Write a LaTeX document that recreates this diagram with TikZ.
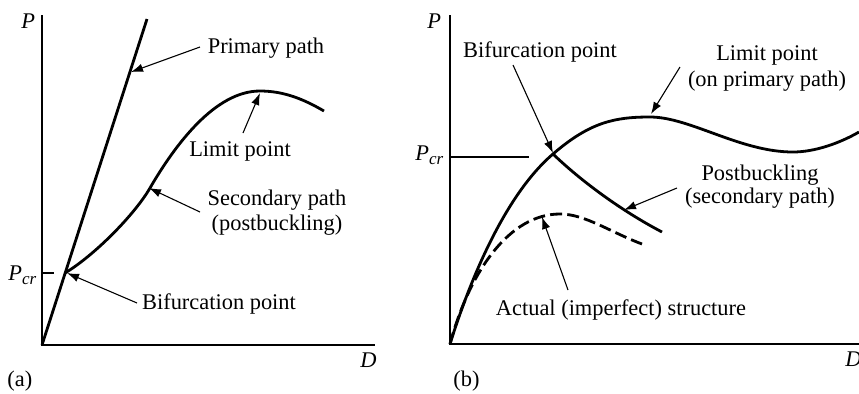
\documentclass[tikz,border=0pt]{standalone}
\usepackage{fontspec}
\setmainfont{Liberation Serif}
\usetikzlibrary{arrows.meta}
\newcommand{\myP}{\textit{P}}
\newcommand{\myPcr}{\textit{P}\raisebox{-0.45ex}{\fontsize{8.5}{9}\selectfont\textit{cr}}}
\begin{document}
\begin{tikzpicture}[x=0.5pt,y=-0.5pt,
  axis/.style={line width=0.75pt},
  curve/.style={line width=1.4pt},
  dashcurve/.style={line width=1.4pt, dash pattern=on 6pt off 2.6pt},
  pointer/.style={line width=0.55pt,-{Latex[length=6pt,width=4.2pt]}},
  lbl/.style={inner sep=0pt, font=\fontsize{11.2}{13}\selectfont},
  every node/.style={inner sep=0pt}]
\useasboundingbox (0,0) rectangle (859,393);
% ---------------- panel (a)
\coordinate (aO) at (42,345);
\coordinate (aTop) at (42,15);
\coordinate (aRight) at (375,345);
\draw[axis] (aTop) -- (aO) -- (aRight);
\coordinate (aPrimEnd) at (147,19);
\draw[curve] (aO) -- (aPrimEnd);
\coordinate (aB) at (65,273);
\coordinate (aS) at (150,188);
\coordinate (aL) at (260,91);
\coordinate (aEnd) at (324,111);
\draw[curve] (aB) .. controls (95,255) and (135,214) .. (aS)
  .. controls (175,145) and (215,91) .. (aL)
  .. controls (285,91) and (305,100) .. (aEnd);
\coordinate (aTick0) at (42,273);
\coordinate (aTick1) at (54,273);
\draw[curve] (aTick0) -- (aTick1);
\node[lbl, anchor=base west] (aP) at (21,28) {\myP};
\node[lbl, anchor=base west] (aPcr) at (8,280) {\myPcr};
\node[lbl, anchor=base west] (aD) at (360,367) {\textit{D}};
\node[lbl, anchor=base west] (aLab) at (7,386) {(a)};
\node[lbl, anchor=base] (aPrim) at (266,53) {Primary path};
\node[lbl, anchor=base] (aLim) at (240,156) {Limit point};
\node[lbl, anchor=base] (aSec1) at (277,205) {Secondary path};
\node[lbl, anchor=base] (aSec2) at (277,230) {(postbuckling)};
\node[lbl, anchor=base] (aBif) at (219,309) {Bifurcation point};
\coordinate (aPrimS) at (200,47);  \coordinate (aPrimT) at (131,72);
\coordinate (aLimS) at (243,133);  \coordinate (aLimT) at (260,93);
\coordinate (aSecS) at (200,212);  \coordinate (aSecT) at (149,188);
\coordinate (aBifS) at (137,303);  \coordinate (aBifT) at (67,273);
\draw[pointer] (aPrimS) -- (aPrimT);
\draw[pointer] (aLimS) -- (aLimT);
\draw[pointer] (aSecS) -- (aSecT);
\draw[pointer] (aBifS) -- (aBifT);
% ---------------- panel (b)
\coordinate (bO) at (450,344);
\coordinate (bTop) at (450,15);
\coordinate (bRight) at (859,344);
\draw[axis] (bTop) -- (bO) -- (bRight);
\coordinate (bB) at (553,154);
\coordinate (bL) at (650,117);
\coordinate (bTr) at (793,152);
\coordinate (bEnd) at (859,132);
\draw[curve] (bO) .. controls (470,280) and (505,195) .. (bB)
  .. controls (590,122) and (615,117) .. (bL)
  .. controls (690,117) and (740,152) .. (bTr)
  .. controls (815,152) and (840,143) .. (bEnd);
\coordinate (bSecEnd) at (662,232);
\draw[curve] (bB) .. controls (580,180) and (620,210) .. (bSecEnd);
\coordinate (bDPeak) at (560,214);
\coordinate (bDEnd) at (642,244);
\draw[dashcurve] (bO) .. controls (470,270) and (510,214) .. (bDPeak)
  .. controls (585,214) and (610,232) .. (bDEnd);
\coordinate (bPcr0) at (450,157);
\coordinate (bPcr1) at (529,157);
\draw[curve] (bPcr0) -- (bPcr1);
\node[lbl, anchor=base west] (bP) at (427,28) {\myP};
\node[lbl, anchor=base west] (bPcr) at (415,160) {\myPcr};
\node[lbl, anchor=base west] (bD) at (845,366) {\textit{D}};
\node[lbl, anchor=base west] (bLab) at (453,386) {(b)};
\node[lbl, anchor=base] (bBif) at (540,57) {Bifurcation point};
\node[lbl, anchor=base] (bLim1) at (767,60) {Limit point};
\node[lbl, anchor=base] (bLim2) at (767,86) {(on primary path)};
\node[lbl, anchor=base] (bPost1) at (760,180) {Postbuckling};
\node[lbl, anchor=base] (bPost2) at (760,203) {(secondary path)};
\node[lbl, anchor=base] (bAct) at (621,315) {Actual (imperfect) structure};
\coordinate (bBifS) at (513,65);   \coordinate (bBifT) at (553,153);
\coordinate (bLimS) at (680,67);   \coordinate (bLimT) at (651,114);
\coordinate (bPostS) at (677,188); \coordinate (bPostT) at (624,210);
\coordinate (bActS) at (568,290);  \coordinate (bActT) at (542,217);
\draw[pointer] (bBifS) -- (bBifT);
\draw[pointer] (bLimS) -- (bLimT);
\draw[pointer] (bPostS) -- (bPostT);
\draw[pointer] (bActS) -- (bActT);
\end{tikzpicture}
\end{document}
